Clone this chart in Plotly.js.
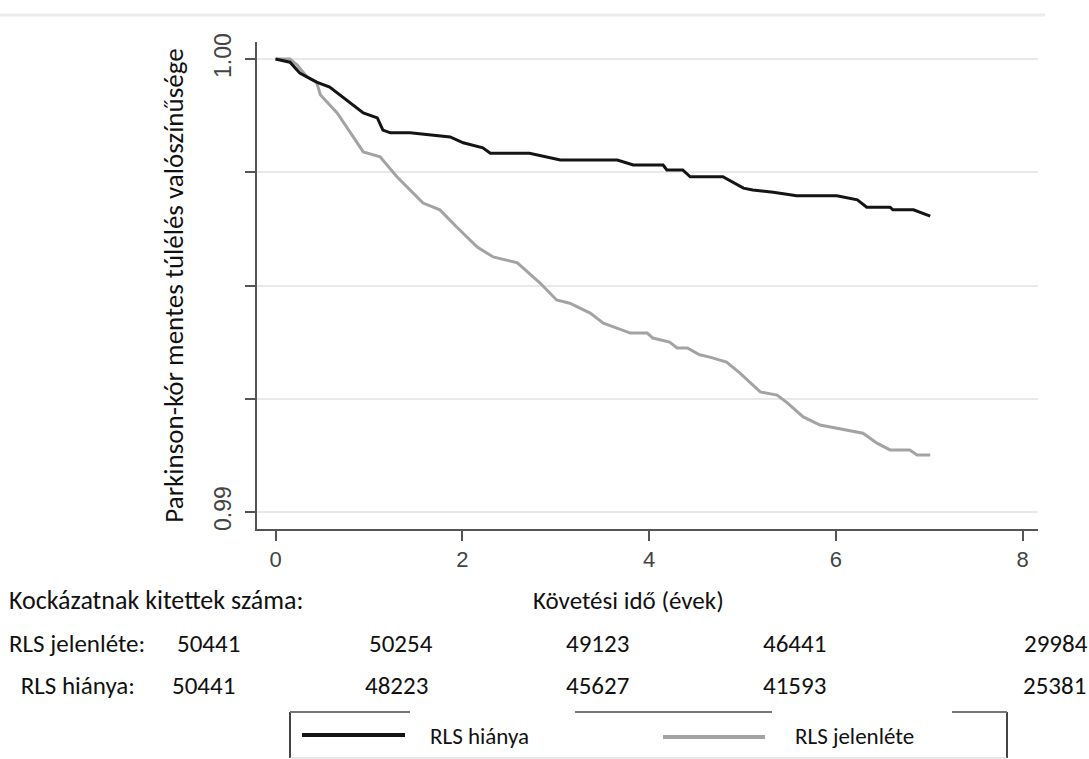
<!DOCTYPE html>
<html>
<head>
<meta charset="utf-8">
<script src="https://cdn.plot.ly/plotly-3.0.1.min.js"></script>
<style>html,body{margin:0;padding:0;background:#fff;}#chart{width:1089px;height:759px;}</style>
</head>
<body>
<div id="chart"></div>
<script>
// ---- data ----
const timeAbsent = [0, 0.155, 0.26, 0.44, 0.58, 0.80, 0.94, 1.09, 1.15, 1.23, 1.44, 1.87, 2.01, 2.22, 2.30, 2.72, 3.05, 3.66, 3.83, 4.15, 4.19, 4.36, 4.44, 4.79, 4.90, 5.01, 5.11, 5.33, 5.58, 6.01, 6.23, 6.33, 6.58, 6.61, 6.83, 7.01];
const survAbsent = [1.0, 0.99993, 0.99969, 0.99949, 0.99938, 0.99903, 0.99881, 0.99870, 0.99843, 0.99837, 0.99837, 0.99828, 0.99815, 0.99804, 0.99792, 0.99792, 0.99777, 0.99777, 0.99766, 0.99766, 0.99755, 0.99755, 0.99740, 0.99740, 0.99728, 0.99715, 0.99711, 0.99706, 0.99698, 0.99698, 0.99689, 0.99673, 0.99673, 0.99667, 0.99667, 0.99653];

const timePresent = [0, 0.155, 0.23, 0.34, 0.44, 0.48, 0.66, 0.80, 0.94, 1.12, 1.30, 1.44, 1.58, 1.76, 1.94, 2.16, 2.33, 2.59, 2.83, 3.01, 3.15, 3.37, 3.51, 3.80, 3.98, 4.04, 4.22, 4.30, 4.41, 4.54, 4.65, 4.83, 4.97, 5.19, 5.37, 5.48, 5.65, 5.83, 6.12, 6.29, 6.44, 6.58, 6.79, 6.87, 7.01];
const survPresent = [1.0, 1.0, 0.99987, 0.99960, 0.99949, 0.99921, 0.99881, 0.99837, 0.99795, 0.99784, 0.99740, 0.99711, 0.99682, 0.99667, 0.99629, 0.99585, 0.99563, 0.99550, 0.99506, 0.99468, 0.99461, 0.99439, 0.99417, 0.99395, 0.99395, 0.99384, 0.99375, 0.99362, 0.99362, 0.99347, 0.99342, 0.99331, 0.99307, 0.99265, 0.99258, 0.99241, 0.99210, 0.99192, 0.99181, 0.99174, 0.99152, 0.99137, 0.99137, 0.99126, 0.99126];

const seriesNames = ["RLS hiánya", "RLS jelenléte"];
const xTickVals = [0, 2, 4, 6, 8];
const yTickVals = [0.99, 0.9925, 0.995, 0.9975, 1.0];
const yTickText = ["0.99", "", "", "", "1.00"];

const riskTitle = "Kockázatnak kitettek száma:";
const riskRowLabels = ["RLS jelenléte:", " RLS hiánya:"];
const riskPresent = [50441, 50254, 49123, 46441, 29984];
const riskAbsent = [50441, 48223, 45627, 41593, 25381];

const xTitle = "Követési idő (évek)";
const yTitle = "Parkinson-kór mentes túlélés valószínűsége";

// ---- layout helpers (pixel -> paper) ----
const W = 1089, H = 759;
const M = {l: 257, r: 51, t: 42, b: 230};
const PW = W - M.l - M.r, PH = H - M.t - M.b;
const px = x => (x - M.l) / PW;
const py = y => (H - M.b - y) / PH;

const TXT = "Carlito, Lato, 'Liberation Sans', sans-serif";
const TICK = "'Liberation Sans Narrow', 'Liberation Sans', Arial, sans-serif";
const TS = 25;

const traces = [
  {x: timePresent, y: survPresent, name: seriesNames[1], type: "scatter", mode: "lines",
   line: {color: "#a3a3a3", width: 3}},
  {x: timeAbsent, y: survAbsent, name: seriesNames[0], type: "scatter", mode: "lines",
   line: {color: "#141414", width: 3}}
];

const annotations = [];
annotations.push({text: xTitle, xref: "paper", yref: "paper", x: px(628), y: py(600),
  xanchor: "center", yanchor: "middle", showarrow: false, font: {family: TXT, size: TS, color: "#111"}});
annotations.push({text: riskTitle, xref: "paper", yref: "paper", x: px(7), y: py(600),
  xanchor: "left", yanchor: "middle", showarrow: false, font: {family: TXT, size: 26, color: "#111"}});
const rowY = [643, 685];
const rowX = [7, 13];
const colPresent = [208, 401, 597, 794, 1056];
const colAbsent = [203, 396, 597, 794, 1054];
[riskPresent, riskAbsent].forEach((row, r) => {
  annotations.push({text: riskRowLabels[r], xref: "paper", yref: "paper", x: px(rowX[r]), y: py(rowY[r]),
    xanchor: "left", yanchor: "middle", showarrow: false, font: {family: TXT, size: TS, color: "#111"}});
  const cols = r === 0 ? colPresent : colAbsent;
  row.forEach((v, i) => {
    annotations.push({text: String(v), xref: "paper", yref: "paper", x: px(cols[i]), y: py(rowY[r]),
      xanchor: "center", yanchor: "middle", showarrow: false, font: {family: TXT, size: TS, color: "#111"}});
  });
});
// legend labels
annotations.push({text: seriesNames[0], xref: "paper", yref: "paper", x: px(428), y: py(736),
  xanchor: "left", yanchor: "middle", showarrow: false, font: {family: TXT, size: 23, color: "#111"}});
annotations.push({text: seriesNames[1], xref: "paper", yref: "paper", x: px(793), y: py(736),
  xanchor: "left", yanchor: "middle", showarrow: false, font: {family: TXT, size: 23, color: "#111"}});

const shapes = [
  // faint top border of the picture
  {type: "line", xref: "paper", yref: "paper", x0: px(0), x1: px(1045), y0: py(15), y1: py(15),
   line: {color: "#ececec", width: 3}},
  // legend frame
  {type: "line", xref: "paper", yref: "paper", x0: px(290), x1: px(290), y0: py(712), y1: py(758), line: {color: "#444", width: 2}},
  {type: "line", xref: "paper", yref: "paper", x0: px(1007), x1: px(1007), y0: py(712), y1: py(758), line: {color: "#444", width: 2}},
  {type: "line", xref: "paper", yref: "paper", x0: px(290), x1: px(410), y0: py(712), y1: py(712), line: {color: "#777", width: 2}},
  {type: "line", xref: "paper", yref: "paper", x0: px(575), x1: px(772), y0: py(712), y1: py(712), line: {color: "#777", width: 2}},
  {type: "line", xref: "paper", yref: "paper", x0: px(952), x1: px(1007), y0: py(712), y1: py(712), line: {color: "#777", width: 2}},
  {type: "line", xref: "paper", yref: "paper", x0: px(290), x1: px(1007), y0: py(758), y1: py(758), line: {color: "#d0d0d0", width: 1}},
  // legend keys
  {type: "line", xref: "paper", yref: "paper", x0: px(302), x1: px(405), y0: py(735), y1: py(735), line: {color: "#141414", width: 4}},
  {type: "line", xref: "paper", yref: "paper", x0: px(663), x1: px(765), y0: py(737), y1: py(737), line: {color: "#a3a3a3", width: 4}}
];

const layout = {
  width: W, height: H,
  margin: M,
  paper_bgcolor: "#fff", plot_bgcolor: "#fff",
  showlegend: false,
  xaxis: {
    range: [(M.l - 275.5) / 93.4, (W - M.r - 275.5) / 93.4],
    tickvals: xTickVals, ticktext: xTickVals.map(String),
    ticks: "outside", ticklen: 10, tickwidth: 2, tickcolor: "#555",
    showline: true, linecolor: "#555", linewidth: 2,
    showgrid: false, zeroline: false,
    ticklabelstandoff: 0,
    tickfont: {family: TICK, size: 22, color: "#444"}
  },
  yaxis: {
    range: [0.989625, 1.000375],
    tickvals: yTickVals, ticktext: yTickText, tickangle: -90,
    ticks: "outside", ticklen: 10, tickwidth: 2, tickcolor: "#555",
    showline: true, linecolor: "#555", linewidth: 2,
    showgrid: true, gridcolor: "#e9e9e9", gridwidth: 2, zeroline: false,
    ticklabelstandoff: 5,
    tickfont: {family: TICK, size: 23, color: "#444"},
    title: {text: yTitle, standoff: 18, font: {family: TXT, size: 27, color: "#111"}}
  },
  annotations: annotations,
  shapes: shapes
};

Plotly.newPlot("chart", traces, layout, {displayModeBar: false, staticPlot: true});
</script>
</body>
</html>
